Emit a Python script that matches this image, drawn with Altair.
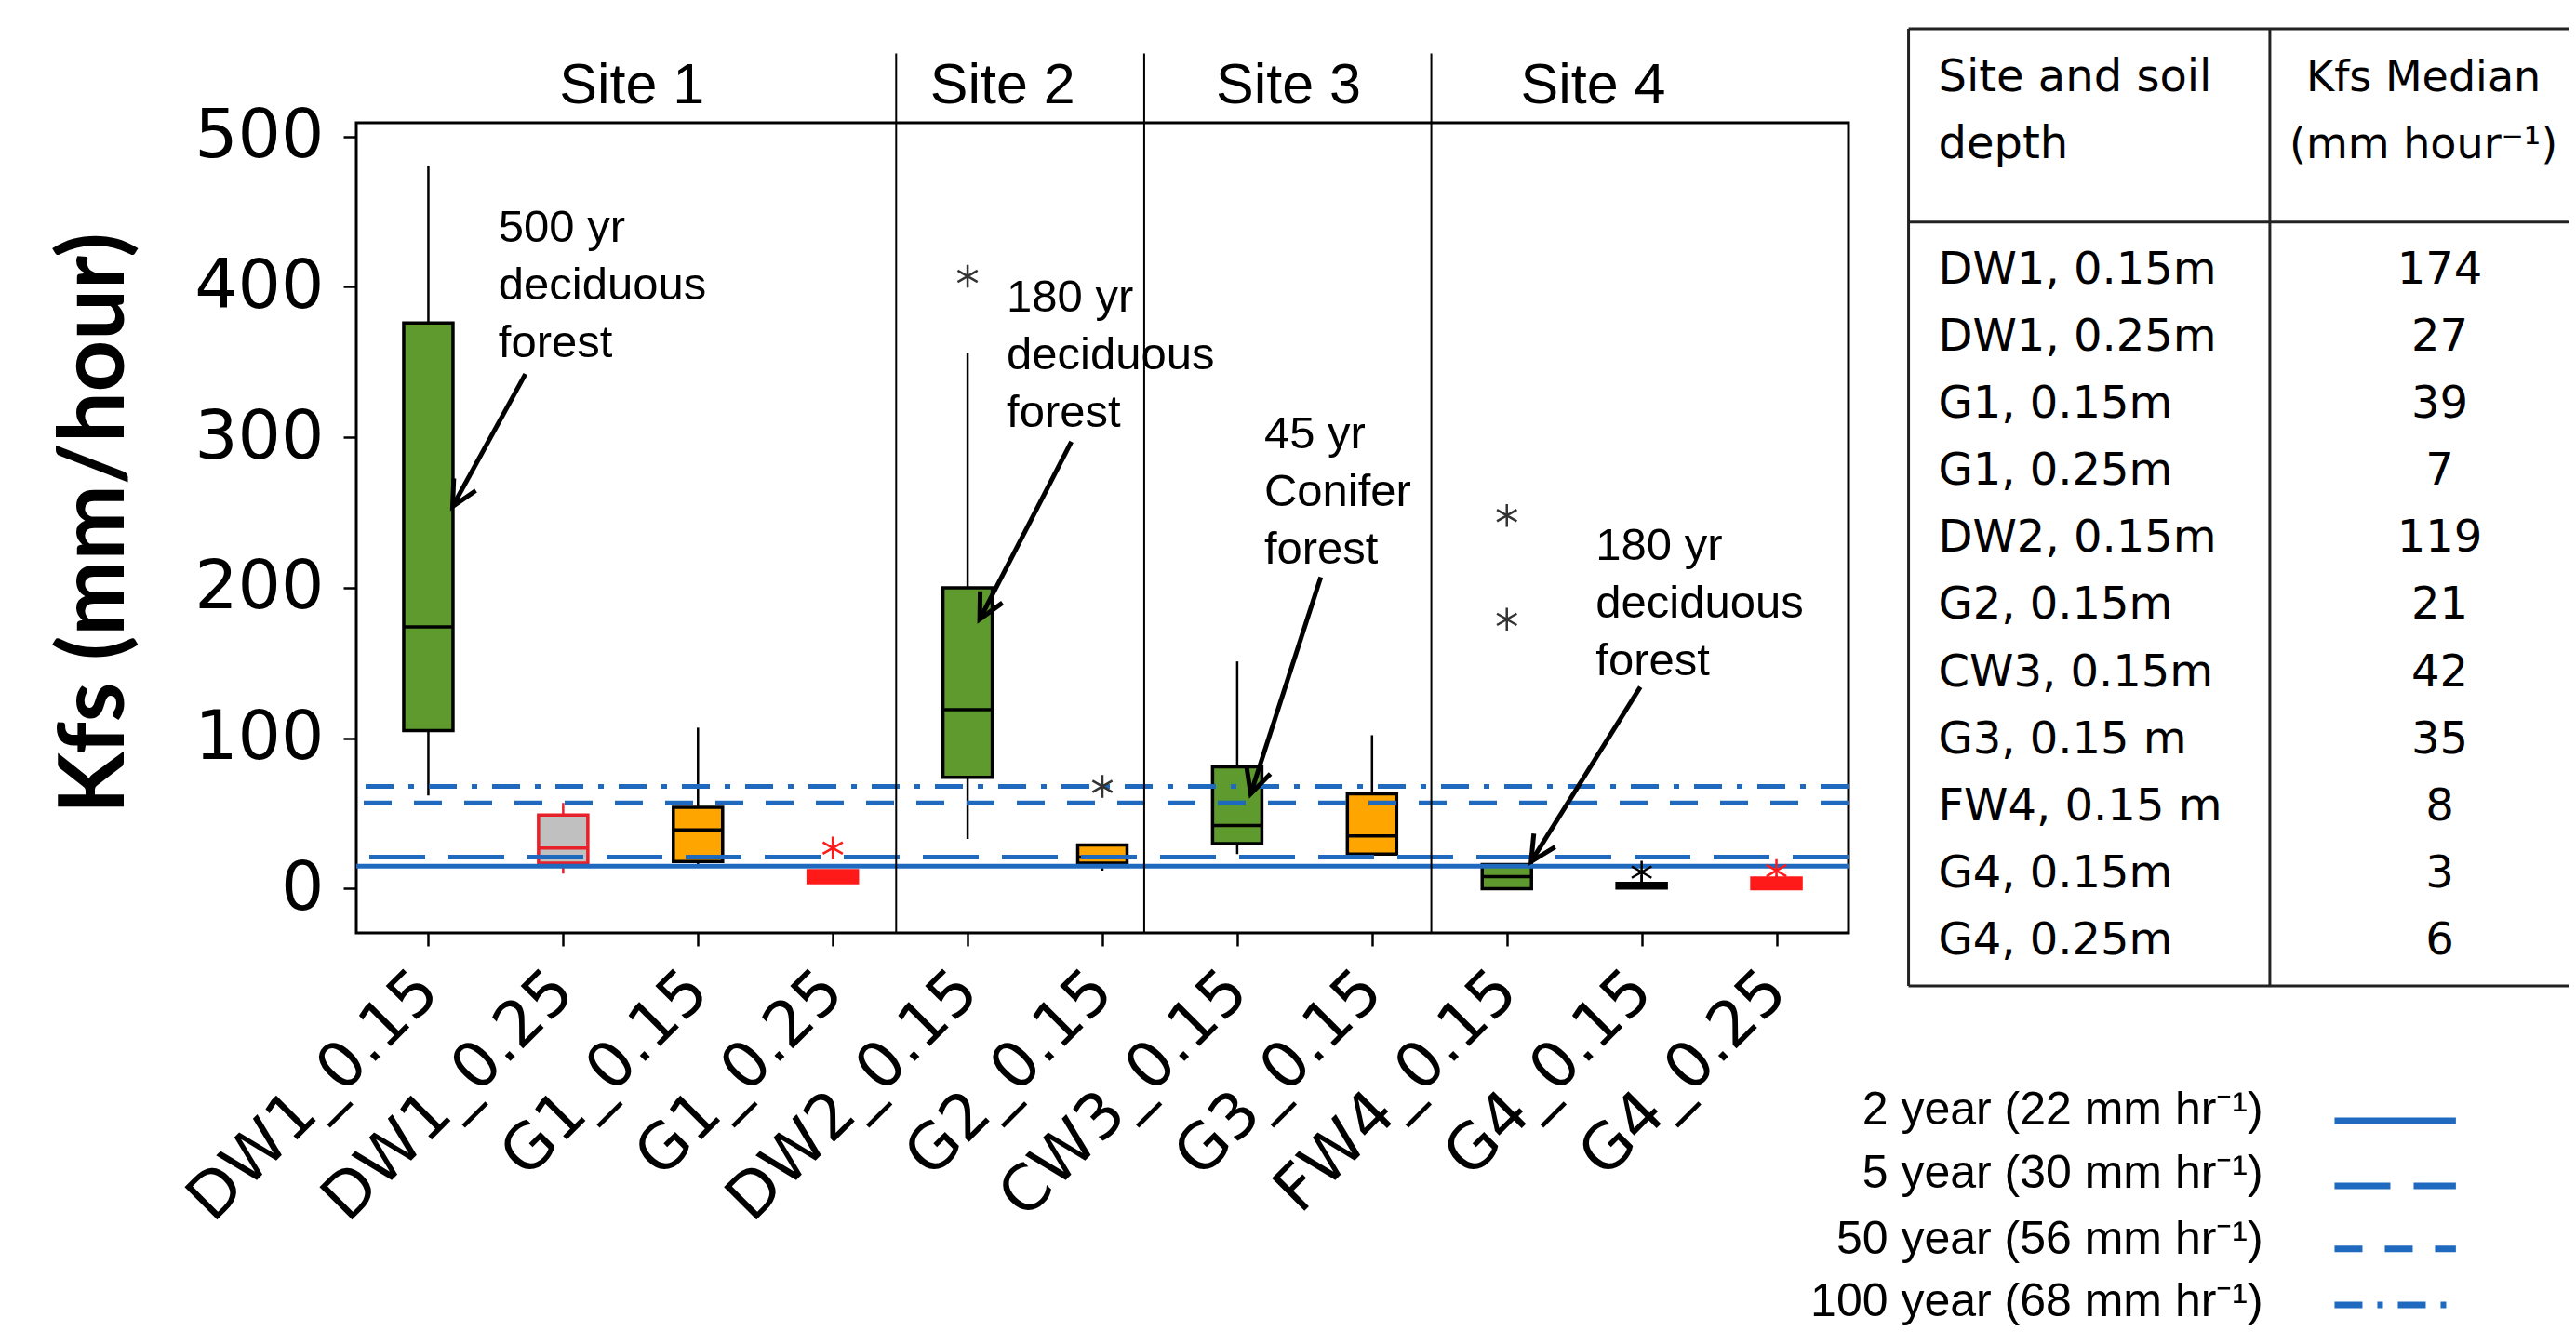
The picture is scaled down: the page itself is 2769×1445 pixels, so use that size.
import math
import altair as alt
import pandas as pd

# ---------------- data ----------------
categories = ["DW1_0.15", "DW1_0.25", "G1_0.15", "G1_0.25", "DW2_0.15", "G2_0.15",
              "CW3_0.15", "G3_0.15", "FW4_0.15", "G4_0.15", "G4_0.25"]
whisker_low = [62, 10, 15, 4, 33, 12, 23, 20, 0, 0, 0]
q1 = [105, 17, 18, 4, 74, 17, 30, 23, 0, 0.5, 0]
medians = [174, 27, 39, 7, 119, 21, 42, 35, 8, 3, 6]
q3 = [376, 49, 54, 12, 200, 29, 81, 63, 16, 3.5, 7]
whisker_high = [480, 57, 107, 12, 356, 29, 151, 102, 16, 9, 9]

GREEN, ORANGE, GRAY, RED, BLACK = "#5f9a2e", "#ffa500", "#c0c0c0", "#ff1a1a", "#000000"
box_fill = [GREEN, GRAY, ORANGE, RED, GREEN, ORANGE, GREEN, ORANGE, GREEN, BLACK, RED]
box_stroke = [BLACK, "#e8202a", BLACK, RED, BLACK, BLACK, BLACK, BLACK, BLACK, BLACK, RED]

outlier_cat = ["G1_0.25", "DW2_0.15", "G2_0.15", "FW4_0.15", "FW4_0.15", "G4_0.15", "G4_0.25"]
outlier_val = [27, 407, 68, 248, 179, 11, 12]
outlier_col = [RED, "#333333", "#333333", "#333333", "#333333", BLACK, RED]

# return-period lines as drawn in the chart, and their legend labels
rp_labels = ["2 year (22 mm hr\u207b\u00b9)", "5 year (30 mm hr\u207b\u00b9)",
             "50 year (56 mm hr\u207b\u00b9)", "100 year (68 mm hr\u207b\u00b9)"]
rp_drawn = [15, 21, 57, 68]
rp_dash = [None, [60, 25], [30, 24], [30, 16, 6, 16]]
BLUE = "#1f6abf"

site_names = ["Site 1", "Site 2", "Site 3", "Site 4"]
site_label_x = [1.51, 4.26, 6.38, 8.64]
site_dividers = [3.47, 5.31, 7.44]

ann_text = ["500 yr\ndeciduous\nforest", "180 yr\ndeciduous\nforest",
            "45 yr\nConifer\nforest", "180 yr\ndeciduous\nforest"]
ann_x = [0.52, 4.29, 6.20, 8.66]
ann_y = [439, 393, 302, 228]   # centre of first line
arrow_x0 = [0.72, 4.77, 6.62, 8.99]
arrow_y0 = [342, 297, 207, 134]
arrow_x1 = [0.18, 4.09, 6.10, 8.18]
arrow_y1 = [254, 179, 63, 18]

table_header_left = ["Site and soil", "depth"]
table_header_right = ["Kfs Median", "(mm hour\u207b\u00b9)"]
table_rows = ["DW1, 0.15m", "DW1, 0.25m", "G1, 0.15m", "G1, 0.25m", "DW2, 0.15m", "G2, 0.15m",
              "CW3, 0.15m", "G3, 0.15 m", "FW4, 0.15 m", "G4, 0.15m", "G4, 0.25m"]
table_medians = [174, 27, 39, 7, 119, 21, 42, 35, 8, 3, 6]

# ---------------- layout ----------------
W, H = 1604, 871
X_DOMAIN = [-0.5, 10.5]
Y_DOMAIN = [-29.4, 509]
PX_X = W / (X_DOMAIN[1] - X_DOMAIN[0])
PX_Y = H / (Y_DOMAIN[1] - Y_DOMAIN[0])

xs = alt.Scale(domain=X_DOMAIN, nice=False, zero=False)
ys = alt.Scale(domain=Y_DOMAIN, nice=False, zero=False)

label_expr = "[" + ",".join("'%s'" % c for c in categories) + "][datum.value]"
xaxis = alt.Axis(values=list(range(len(categories))), labelExpr=label_expr, labelAngle=315,
                 labelAlign="right", labelBaseline="middle", labelFont="DejaVu Sans",
                 labelFontSize=68, labelColor="black", labelPadding=38, labelOverlap=False,
                 labelFlush=False, labelBound=False, labelLimit=0, tickSize=14, tickWidth=2.5,
                 tickColor="black", domain=False, grid=False, title=None)
yaxis = alt.Axis(values=[0, 100, 200, 300, 400, 500], labelFont="DejaVu Sans", labelFontSize=73,
                 labelColor="black", labelPadding=21, tickSize=14, tickWidth=2.5,
                 tickColor="black", domain=False, grid=False, title="Kfs (mm/hour)",
                 titleFont="Lato", titleFontSize=97, titleFontWeight="bold", titleColor="black",
                 titleX=-280, titleY=430, titleAngle=270, titleAlign="center",
                 titleBaseline="middle", titleLimit=0)


def X(f):
    return alt.X(f, type="quantitative", scale=xs, axis=xaxis)


def Y(f):
    return alt.Y(f, type="quantitative", scale=ys, axis=yaxis)


cat_index = {c: i for i, c in enumerate(categories)}

df_box = pd.DataFrame({"x": list(range(len(categories))), "low": whisker_low, "q1": q1,
                       "med": medians, "q3": q3, "high": whisker_high,
                       "fill": box_fill, "stroke": box_stroke})

whiskers = alt.Chart(df_box).mark_rule(strokeWidth=2.5).encode(
    x=X("x"), y=Y("low"), y2="high", color=alt.Color("stroke:N", scale=None))
boxes = alt.Chart(df_box).mark_bar(size=53, strokeWidth=3.5).encode(
    x=X("x"), y=Y("q1"), y2="q3",
    fill=alt.Fill("fill:N", scale=None), stroke=alt.Stroke("stroke:N", scale=None))
med_ticks = alt.Chart(df_box).mark_tick(orient="horizontal", size=53, thickness=3.5, opacity=1).encode(
    x=X("x"), y=Y("med"), color=alt.Color("stroke:N", scale=None))

rp_layers = []
for v, dash in zip(rp_drawn, rp_dash):
    kw = dict(color=BLUE, strokeWidth=5)
    if dash:
        kw["strokeDash"] = dash
    rp_layers.append(alt.Chart(pd.DataFrame({"y": [v]})).mark_rule(**kw).encode(y=Y("y")))

ASTERISK = "M0,-1L0,1M-0.87,-0.5L0.87,0.5M-0.87,0.5L0.87,-0.5"
df_out = pd.DataFrame({"x": [cat_index[c] for c in outlier_cat], "y": outlier_val, "col": outlier_col})
outliers = alt.Chart(df_out).mark_point(shape=ASTERISK, filled=False, size=600, strokeWidth=2.5,
                                        opacity=1).encode(
    x=X("x"), y=Y("y"), color=alt.Color("col:N", scale=None))

df_div = pd.DataFrame({"x": site_dividers, "top": [555] * 3, "bottom": [Y_DOMAIN[0]] * 3})
dividers = alt.Chart(df_div).mark_rule(color="black", strokeWidth=2).encode(
    x=X("x"), y=Y("top"), y2="bottom")

df_site = pd.DataFrame({"x": site_label_x, "y": [522] * 4, "t": site_names})
sites = alt.Chart(df_site).mark_text(font="Liberation Sans", fontSize=61, align="center",
                                     baseline="alphabetic", color="black").encode(
    x=X("x"), y=Y("y"), text="t:N")

df_ann = pd.DataFrame({"x": ann_x, "y": ann_y, "t": ann_text})
ann = alt.Chart(df_ann).mark_text(font="Liberation Sans", fontSize=49, align="left",
                                  baseline="middle", lineBreak="\n", lineHeight=62,
                                  color="black").encode(x=X("x"), y=Y("y"), text="t:N")


def heading(x0, y0, x1, y1):
    dx = (x1 - x0) * PX_X
    dy = -(y1 - y0) * PX_Y
    return (math.degrees(math.atan2(dx, -dy)) + 360) % 360


df_arr = pd.DataFrame({"x0": arrow_x0, "y0": arrow_y0, "x1": arrow_x1, "y1": arrow_y1})
df_arr["ang"] = [heading(a, b, c, d) for a, b, c, d in zip(arrow_x0, arrow_y0, arrow_x1, arrow_y1)]
shafts = alt.Chart(df_arr).mark_rule(color="black", strokeWidth=5).encode(
    x=X("x0"), y=Y("y0"), x2="x1", y2="y1")
CHEVRON = "M-0.45,0.9L0,0L0.45,0.9"
heads = alt.Chart(df_arr).mark_point(shape=CHEVRON, filled=False, size=3600, strokeWidth=5,
                                     color="black", opacity=1).encode(
    x=X("x1"), y=Y("y1"), angle=alt.Angle("ang:Q", scale=None))

# ---- table (positions in the chart's data units, to the right of the plot) ----
T_LEFT, T_DIV, T_RIGHT = 10.98, 13.66, 16.5
T_TEXT_L, T_TEXT_C, T_HEAD_C = 11.20, 14.92, 14.80
T_TOP, T_HEAD, T_BOTTOM = 571.5, 443.0, -64.7
HEAD_Y = [538.8, 494.3]
ROW0, ROWSTEP = 410.9, 44.6

df_rows = pd.DataFrame({"name": table_rows, "med": [str(m) for m in table_medians],
                        "y": [ROW0 - i * ROWSTEP for i in range(len(table_rows))],
                        "xl": [T_TEXT_L] * len(table_rows), "xc": [T_TEXT_C] * len(table_rows)})
txt = dict(font="DejaVu Sans", fontSize=48, baseline="middle", color="black")
tab_names = alt.Chart(df_rows).mark_text(align="left", **txt).encode(x=X("xl"), y=Y("y"), text="name:N")
tab_meds = alt.Chart(df_rows).mark_text(align="center", **txt).encode(x=X("xc"), y=Y("y"), text="med:N")
df_hl = pd.DataFrame({"t": table_header_left, "y": HEAD_Y, "x": [T_TEXT_L] * 2})
df_hr = pd.DataFrame({"t": table_header_right, "y": HEAD_Y, "x": [T_HEAD_C] * 2})
head_l = alt.Chart(df_hl).mark_text(align="left", **txt).encode(x=X("x"), y=Y("y"), text="t:N")
txt_h = dict(txt, fontSize=46)
head_r = alt.Chart(df_hr).mark_text(align="center", **txt_h).encode(x=X("x"), y=Y("y"), text="t:N")
df_th = pd.DataFrame({"y": [T_TOP, T_HEAD, T_BOTTOM], "x0": [T_LEFT] * 3, "x1": [T_RIGHT] * 3})
t_hrules = alt.Chart(df_th).mark_rule(color="#222222", strokeWidth=3).encode(x=X("x0"), x2="x1", y=Y("y"))
df_tv = pd.DataFrame({"x": [T_LEFT, T_DIV], "y0": [T_TOP] * 2, "y1": [T_BOTTOM] * 2})
t_vrules = alt.Chart(df_tv).mark_rule(color="#222222", strokeWidth=3).encode(x=X("x"), y=Y("y0"), y2="y1")

# ---- legend for return-period lines ----
L_TEXT_X, L_LINE_X0, L_LINE_X1 = 13.61, 14.14, 15.04
leg_text_y = [-147.3, -189.5, -233.3, -274.5]
leg_line_y = [-154.3, -197.6, -239.4, -276.7]
df_leg = pd.DataFrame({"t": rp_labels, "y": leg_text_y, "x": [L_TEXT_X] * 4})
leg_text = alt.Chart(df_leg).mark_text(font="Liberation Sans", fontSize=50, align="right",
                                       baseline="middle", color="black").encode(
    x=X("x"), y=Y("y"), text="t:N")
leg_lines = []
for yv, dash in zip(leg_line_y, rp_dash):
    kw = dict(color=BLUE, strokeWidth=7)
    if dash:
        kw["strokeDash"] = dash
    leg_lines.append(alt.Chart(pd.DataFrame({"x0": [L_LINE_X0], "x1": [L_LINE_X1], "y": [yv]}))
                     .mark_rule(**kw).encode(x=X("x0"), x2="x1", y=Y("y")))

chart = alt.layer(
    whiskers, boxes, med_ticks, *rp_layers, outliers, dividers, sites, ann, shafts, heads,
    t_hrules, t_vrules, head_l, head_r, tab_names, tab_meds, leg_text, *leg_lines
).properties(
    width=W, height=H,
    autosize=alt.AutoSizeParams(type="none"),
    padding={"left": 375, "top": 124, "right": 774, "bottom": 432},
    background="white",
).configure_view(stroke="black", strokeWidth=3)

chart.save("out.html", embed_options={"renderer": "svg", "actions": False})
